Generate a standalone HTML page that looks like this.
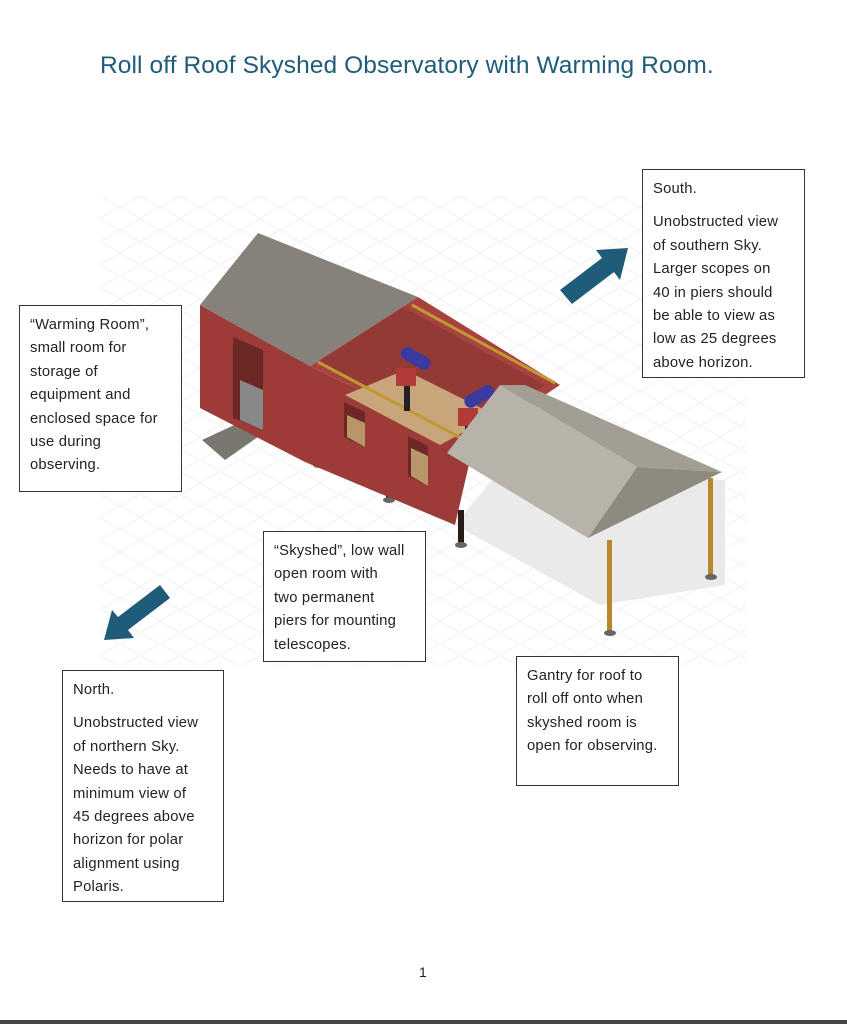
<!DOCTYPE html>
<html><head><meta charset="utf-8"><style>
html,body{margin:0;padding:0;background:#fff}
body{width:847px;height:1024px;position:relative;overflow:hidden;font-family:"Liberation Sans",sans-serif}
.t{position:absolute;left:100px;top:52px;font-size:24.5px;letter-spacing:0.1px;color:#1f5c7a;white-space:nowrap}
.b{position:absolute;border:1.3px solid #333;background:#fff;box-sizing:border-box;padding:8px 0 0 10px;font-size:14.8px;line-height:23.4px;color:#222;white-space:nowrap;letter-spacing:0.2px}
.b p{margin:0 0 10px 0}
.pg{position:absolute;left:419px;top:964px;font-size:14px;color:#222}
.bl{position:absolute;left:0;top:1020px;width:847px;height:4px;background:#444}
</style></head><body>
<div class="t">Roll off Roof Skyshed Observatory with Warming Room.</div>
<svg width="847" height="1024" style="position:absolute;left:0;top:0">
<defs>
<pattern id="g" width="40" height="23" patternUnits="userSpaceOnUse">
<path d="M0 0 L40 23 M40 0 L0 23" stroke="#f2f2f2" stroke-width="1"/>
</pattern>
</defs>
<rect x="100" y="195" width="647" height="470" fill="url(#g)"/>
<polygon points="455,525 600,605 725,585 725,480 500,470" fill="#eaeaea"/>
<rect x="316" y="440" width="6" height="25" fill="#2a1a18"/><ellipse cx="319" cy="465" rx="6" ry="3" fill="#666"/>
<rect x="386" y="470" width="6" height="30" fill="#2a1a18"/><ellipse cx="389" cy="500" rx="6" ry="3" fill="#666"/>
<rect x="458" y="510" width="6" height="35" fill="#2a1a18"/><ellipse cx="461" cy="545" rx="6" ry="3" fill="#666"/>
<polygon points="202,440 245,420 265,432 225,460" fill="#7a7670"/>
<polygon points="200,305 310,366 470,445 470,460 455,525 305,462 200,408" fill="#9d3b38"/>
<polygon points="310,366 418,297 560,385 470,445" fill="#a8423e"/>
<polygon points="318,362 403,307 545,385 465,440" fill="#933a36"/>
<polygon points="345,395 405,370 495,415 440,445" fill="#c8a57a"/>
<path d="M318,362 L465,440 M412,305 L555,383" stroke="#c09a30" stroke-width="3"/>
<polygon points="233,337 263,350 263,430 233,418" fill="#6b2825"/>
<polygon points="240,380 263,390 263,430 240,420" fill="#888"/>
<polygon points="344,402 365,412 365,447 344,437" fill="#6b2825"/><polygon points="347,415 365,423 365,447 347,437" fill="#b8966a"/>
<polygon points="408,436 428,446 428,486 408,476" fill="#6b2825"/><polygon points="411,448 428,456 428,486 411,476" fill="#b8966a"/>
<rect x="396" y="368" width="20" height="18" fill="#b13c36"/><rect x="404" y="386" width="6" height="25" fill="#222"/>
<rect x="400" y="352" width="32" height="13" rx="6" fill="#3a3aa0" transform="rotate(30 416 358)"/>
<rect x="458" y="408" width="20" height="18" fill="#b13c36"/><rect x="465" y="426" width="6" height="18" fill="#222"/>
<rect x="463" y="390" width="32" height="13" rx="6" fill="#3a3aa0" transform="rotate(-30 479 396)"/>
<polygon points="200,305 258,233 418,297 310,366" fill="#86827b"/>
<polygon points="500,385 525,385 722,472 637,467" fill="#a39e94"/>
<polygon points="447,453 500,385 637,467 588,538" fill="#b8b3a8"/>
<polygon points="588,538 637,467 722,472" fill="#8f8a80"/>
<rect x="607" y="540" width="5" height="92" fill="#b8862c"/><ellipse cx="610" cy="633" rx="6" ry="3" fill="#666"/>
<rect x="708" y="478" width="5" height="98" fill="#b8862c"/><ellipse cx="711" cy="577" rx="6" ry="3" fill="#666"/>
<polygon points="560,290 602,258 596,250 628,248 620,280 614,272 572,304" fill="#1f5c7a"/>
<polygon points="170,598 128,630 134,638 104,640 112,610 118,617 160,585" fill="#1f5c7a"/>
</svg>
<div class="b" style="left:642px;top:169px;width:163px;height:209px"><p>South.</p>Unobstructed view<br>of southern Sky.<br>Larger scopes on<br>40 in piers should<br>be able to view as<br>low as 25 degrees<br>above horizon.</div>
<div class="b" style="left:19px;top:305px;width:163px;height:187px">“Warming Room”,<br>small room for<br>storage of<br>equipment and<br>enclosed space for<br>use during<br>observing.</div>
<div class="b" style="left:263px;top:531px;width:163px;height:131px">“Skyshed”, low wall<br>open room with<br>two permanent<br>piers for mounting<br>telescopes.</div>
<div class="b" style="left:62px;top:670px;width:162px;height:232px"><p>North.</p>Unobstructed view<br>of northern Sky.<br>Needs to have at<br>minimum view of<br>45 degrees above<br>horizon for polar<br>alignment using<br>Polaris.</div>
<div class="b" style="left:516px;top:656px;width:163px;height:130px">Gantry for roof to<br>roll off onto when<br>skyshed room is<br>open for observing.</div>
<div class="pg">1</div>
<div class="bl"></div>
</body></html>
